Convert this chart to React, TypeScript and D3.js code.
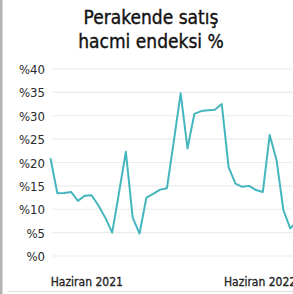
import React, { useEffect, useRef } from 'react';
import * as d3 from 'd3';

const titleLines = ['Perakende satış', 'hacmi endeksi %'];
const yTicks = [0, 5, 10, 15, 20, 25, 30, 35, 40];
const values = [
  20.9, 13.4, 13.5, 13.7, 11.8, 12.9, 13.0, 10.8, 8.2, 5.0,
  13.5, 22.3, 8.2, 4.8, 12.5, 13.3, 14.2, 14.5, 24.5, 34.8,
  23.0, 30.4, 31.0, 31.2, 31.3, 32.5, 19.0, 15.5, 14.8, 15.0,
  14.1, 13.7, 25.9, 20.5, 9.8, 5.9, 7.5,
];
const xLabels = [
  { idx: 5.3, text: 'Haziran 2021' },
  { idx: 30.6, text: 'Haziran 2022' },
];

const W = 293;
const H = 294;
const font = "'DejaVu Sans Condensed', 'DejaVu Sans', sans-serif";

const App = () => {
  const svgRef = useRef<SVGSVGElement>(null);

  useEffect(() => {
    const svg = d3.select(svgRef.current);
    svg.selectAll('*').remove();

    const x = d3.scaleLinear().domain([0, values.length - 1]).range([50.5, 50.5 + 6.85 * (values.length - 1)]);
    const y = d3.scaleLinear().domain([0, 40]).range([256, 69]);

    svg.append('rect').attr('x', 0).attr('y', 0).attr('width', W).attr('height', H).attr('fill', '#fff');
    svg.append('rect').attr('x', 0).attr('y', 0).attr('width', 2.5).attr('height', H).attr('fill', '#b4b4b4');
    svg.append('line').attr('x1', 8).attr('x2', W).attr('y1', 291.5).attr('y2', 291.5)
      .attr('stroke', '#dedede').attr('stroke-width', 1);

    svg.selectAll('.title')
      .data(titleLines)
      .join('text')
      .attr('x', 151)
      .attr('y', (d, i) => 24 + i * 24)
      .attr('text-anchor', 'middle')
      .attr('font-family', font)
      .attr('font-size', 19)
      .attr('fill', '#111')
      .attr('stroke', '#111')
      .attr('stroke-width', 0.35)
      .text((d) => d);

    svg.selectAll('.grid')
      .data(yTicks)
      .join('line')
      .attr('x1', 52)
      .attr('x2', W)
      .attr('y1', (d) => y(d))
      .attr('y2', (d) => y(d))
      .attr('stroke', '#ececec')
      .attr('stroke-width', 1.2);

    svg.selectAll('.ylab')
      .data(yTicks)
      .join('text')
      .attr('x', 45)
      .attr('y', (d) => y(d) + 5)
      .attr('text-anchor', 'end')
      .attr('font-family', font)
      .attr('font-size', 13)
      .attr('fill', '#2a2a2a')
      .text((d) => `%${d}`);

    const line = d3.line<number>().x((d, i) => x(i)).y((d) => y(d));
    svg.append('path')
      .datum(values)
      .attr('d', line)
      .attr('fill', 'none')
      .attr('stroke', '#45b6be')
      .attr('stroke-width', 2)
      .attr('stroke-linejoin', 'round');

    svg.selectAll('.xlab')
      .data(xLabels)
      .join('text')
      .attr('x', (d) => x(d.idx))
      .attr('y', 286)
      .attr('text-anchor', 'middle')
      .attr('font-family', font)
      .attr('font-size', 12)
      .attr('fill', '#222')
      .attr('stroke', '#222')
      .attr('stroke-width', 0.3)
      .text((d) => d.text);
  }, []);

  return (
    <svg ref={svgRef} width={W} height={H} style={{ position: 'absolute', left: 0, top: 0 }}></svg>
  );
};

export default App;
